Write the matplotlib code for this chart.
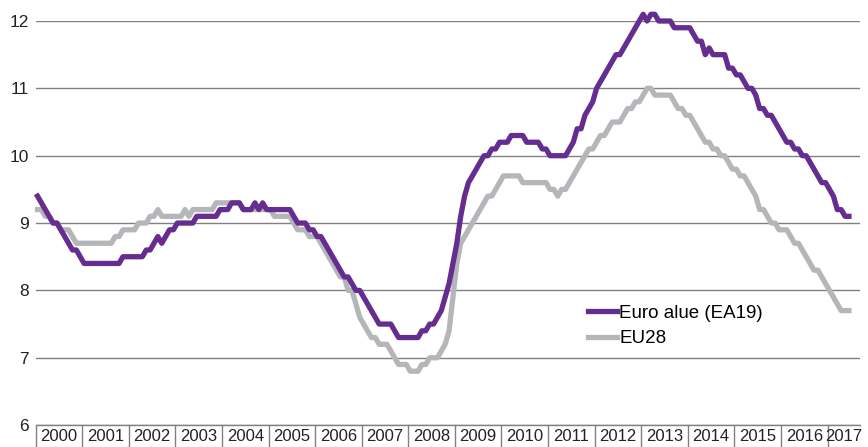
import matplotlib.pyplot as plt
import numpy as np

# Työttömyysaste kuukausittain, tammikuu 2000 - kesäkuu 2017 (%)
years = [str(y) for y in range(2000, 2018)]

ea19 = [
    9.4, 9.3, 9.2, 9.1, 9.0, 9.0, 8.9, 8.8, 8.7, 8.6, 8.6, 8.5,          # 2000
    8.4, 8.4, 8.4, 8.4, 8.4, 8.4, 8.4, 8.4, 8.4, 8.4, 8.5, 8.5,          # 2001
    8.5, 8.5, 8.5, 8.5, 8.6, 8.6, 8.7, 8.8, 8.7, 8.8, 8.9, 8.9,          # 2002
    9.0, 9.0, 9.0, 9.0, 9.0, 9.1, 9.1, 9.1, 9.1, 9.1, 9.1, 9.2,          # 2003
    9.2, 9.2, 9.3, 9.3, 9.3, 9.2, 9.2, 9.2, 9.3, 9.2, 9.3, 9.2,          # 2004
    9.2, 9.2, 9.2, 9.2, 9.2, 9.2, 9.1, 9.0, 9.0, 9.0, 8.9, 8.9,          # 2005
    8.8, 8.8, 8.7, 8.6, 8.5, 8.4, 8.3, 8.2, 8.2, 8.1, 8.0, 8.0,          # 2006
    7.9, 7.8, 7.7, 7.6, 7.5, 7.5, 7.5, 7.5, 7.4, 7.3, 7.3, 7.3,          # 2007
    7.3, 7.3, 7.3, 7.4, 7.4, 7.5, 7.5, 7.6, 7.7, 7.9, 8.1, 8.4,          # 2008
    8.7, 9.1, 9.4, 9.6, 9.7, 9.8, 9.9, 10.0, 10.0, 10.1, 10.1, 10.2,     # 2009
    10.2, 10.2, 10.3, 10.3, 10.3, 10.3, 10.2, 10.2, 10.2, 10.2, 10.1, 10.1,  # 2010
    10.0, 10.0, 10.0, 10.0, 10.0, 10.1, 10.2, 10.4, 10.4, 10.6, 10.7, 10.8,  # 2011
    11.0, 11.1, 11.2, 11.3, 11.4, 11.5, 11.5, 11.6, 11.7, 11.8, 11.9, 12.0,  # 2012
    12.1, 12.0, 12.1, 12.1, 12.0, 12.0, 12.0, 12.0, 11.9, 11.9, 11.9, 11.9,  # 2013
    11.9, 11.8, 11.7, 11.7, 11.5, 11.6, 11.5, 11.5, 11.5, 11.5, 11.3, 11.3,  # 2014
    11.2, 11.2, 11.1, 11.0, 11.0, 10.9, 10.7, 10.7, 10.6, 10.6, 10.5, 10.4,  # 2015
    10.3, 10.2, 10.2, 10.1, 10.1, 10.0, 10.0, 9.9, 9.8, 9.7, 9.6, 9.6,       # 2016
    9.5, 9.4, 9.2, 9.2, 9.1, 9.1,                                            # 2017
]

eu28 = [
    9.2, 9.2, 9.1, 9.1, 9.0, 9.0, 8.9, 8.9, 8.9, 8.8, 8.7, 8.7,          # 2000
    8.7, 8.7, 8.7, 8.7, 8.7, 8.7, 8.7, 8.7, 8.8, 8.8, 8.9, 8.9,          # 2001
    8.9, 8.9, 9.0, 9.0, 9.0, 9.1, 9.1, 9.2, 9.1, 9.1, 9.1, 9.1,          # 2002
    9.1, 9.1, 9.2, 9.1, 9.2, 9.2, 9.2, 9.2, 9.2, 9.2, 9.3, 9.3,          # 2003
    9.3, 9.3, 9.3, 9.3, 9.3, 9.2, 9.2, 9.2, 9.2, 9.2, 9.2, 9.2,          # 2004
    9.2, 9.1, 9.1, 9.1, 9.1, 9.1, 9.0, 8.9, 8.9, 8.9, 8.8, 8.8,          # 2005
    8.8, 8.7, 8.6, 8.5, 8.4, 8.3, 8.2, 8.2, 8.0, 8.0, 7.8, 7.6,          # 2006
    7.5, 7.4, 7.3, 7.3, 7.2, 7.2, 7.2, 7.1, 7.0, 6.9, 6.9, 6.9,          # 2007
    6.8, 6.8, 6.8, 6.9, 6.9, 7.0, 7.0, 7.0, 7.1, 7.2, 7.4, 7.9,          # 2008
    8.4, 8.7, 8.8, 8.9, 9.0, 9.1, 9.2, 9.3, 9.4, 9.4, 9.5, 9.6,          # 2009
    9.7, 9.7, 9.7, 9.7, 9.7, 9.6, 9.6, 9.6, 9.6, 9.6, 9.6, 9.6,          # 2010
    9.5, 9.5, 9.4, 9.5, 9.5, 9.6, 9.7, 9.8, 9.9, 10.0, 10.1, 10.1,       # 2011
    10.2, 10.3, 10.3, 10.4, 10.5, 10.5, 10.5, 10.6, 10.7, 10.7, 10.8, 10.8,  # 2012
    10.9, 11.0, 11.0, 10.9, 10.9, 10.9, 10.9, 10.9, 10.8, 10.7, 10.7, 10.6,  # 2013
    10.6, 10.5, 10.4, 10.3, 10.2, 10.2, 10.1, 10.1, 10.0, 10.0, 9.9, 9.8,    # 2014
    9.8, 9.7, 9.7, 9.6, 9.5, 9.4, 9.2, 9.2, 9.1, 9.0, 9.0, 8.9,              # 2015
    8.9, 8.9, 8.8, 8.7, 8.7, 8.6, 8.5, 8.4, 8.3, 8.3, 8.2, 8.1,              # 2016
    8.0, 7.9, 7.8, 7.7, 7.7, 7.7,                                            # 2017
]

purple = '#662d91'
grey = '#b4b6b9'
gridc = '#808080'

plt.rcParams['font.family'] = ['Liberation Sans', 'DejaVu Sans']

fig = plt.figure(figsize=(8.68, 4.47), dpi=100)
ax = fig.add_axes([0.041, 0.049, 0.950, 0.904])

months = np.arange(len(ea19)) + 0.5
ax.plot(months, eu28, color=grey, lw=3.8, label='EU28', zorder=3, clip_on=False)
ax.plot(months, ea19, color=purple, lw=3.8, label='Euro alue (EA19)', zorder=4, clip_on=False)

xmax = 212.4
ax.set_xlim(0, xmax)
ax.set_ylim(6, 12)

# vaakasuorat apuviivat
ax.set_yticks(range(6, 13))
ax.grid(axis='y', color=gridc, lw=1.0, zorder=1)
ax.tick_params(axis='y', length=0, pad=5, labelsize=12.5, labelcolor='#222222')
for s in ['left', 'right', 'top']:
    ax.spines[s].set_visible(False)
ax.spines['bottom'].set_color(gridc)
ax.spines['bottom'].set_linewidth(1.0)

# vuosien rajat ja vuosiluvut välien keskelle
bounds = list(range(0, len(years) * 12, 12))
ax.set_xticks(bounds)
ax.set_xticklabels([])
ax.tick_params(axis='x', which='major', length=16, width=1.0, color=gridc, direction='out')
centers = [min(b + 6, (b + xmax) / 2) for b in bounds]
ax.set_xticks(centers, minor=True)
ax.set_xticklabels(years, minor=True)
ax.tick_params(axis='x', which='minor', length=0, pad=3, labelsize=12, labelcolor='#222222')

leg = ax.legend(handles=ax.get_lines()[::-1], loc='upper left', bbox_to_anchor=(0.661, 0.317),
                frameon=False, fontsize=13.5, handlelength=1.55, handletextpad=0.1,
                labelspacing=0.45, borderaxespad=0)

fig.savefig('out.png', dpi=100)
